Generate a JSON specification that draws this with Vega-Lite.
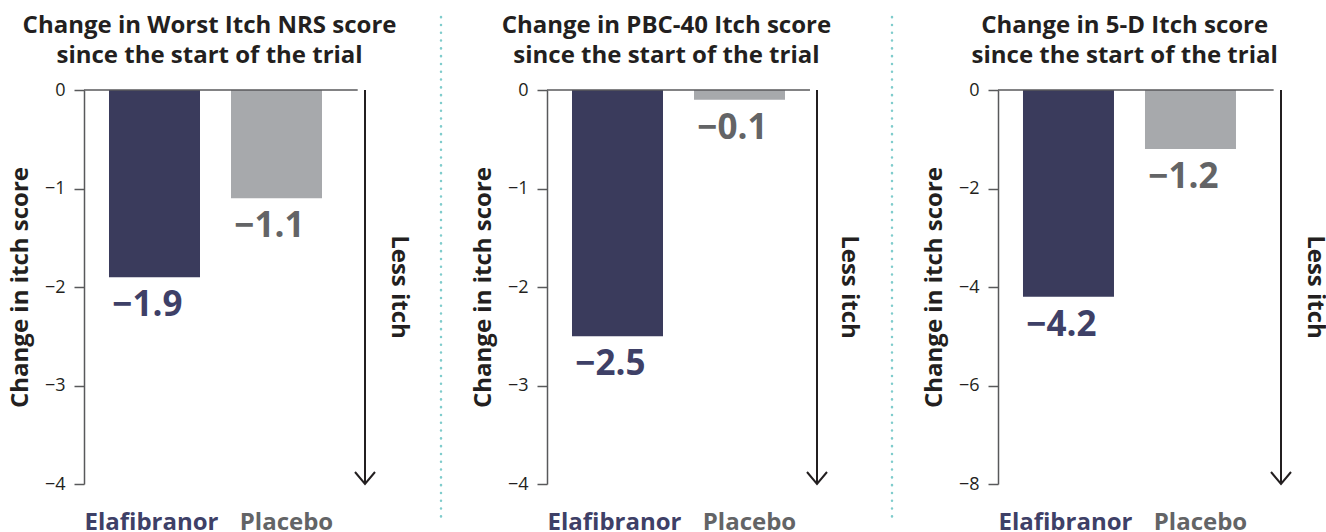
{
  "$schema": "https://vega.github.io/schema/vega-lite/v6.json",
  "padding": {"left": 8, "top": 14, "right": 5, "bottom": 0},
  "background": "white",
  "config": {
    "font": "Open Sans",
    "view": {"stroke": null},
    "title": {"fontSize": 24, "fontWeight": "bold", "font": "Open Sans", "lineHeight": 30, "color": "#231f20", "anchor": "middle", "frame": "bounds", "offset": 13},
    "axisY": {"grid": false, "labelExpr": "datum.value < 0 ? '\u2212' + abs(datum.value) : '' + datum.value", "domainColor": "#58595b", "domainWidth": 1.5, "tickColor": "#58595b", "tickWidth": 1.5, "tickSize": 10, "labelFont": "Open Sans", "labelFontSize": 18, "labelColor": "#231f20", "labelPadding": 9, "titleFont": "Open Sans", "titleFontSize": 24, "titleFontWeight": "bold", "titleColor": "#231f20", "titlePadding": 12},
    "axisX": {"title": null, "domain": false, "ticks": false, "tickSize": 0, "labelAngle": 0, "labelFont": "Open Sans", "labelFontSize": 24, "labelFontWeight": "bold", "labelPadding": 26}
  },
  "spacing": 28,
  "hconcat": [
    {
      "width": 281, "height": 394,
      "title": {"text": ["Change in Worst Itch NRS score", "since the start of the trial"]},
      "data": {"values": [
        {"group": "Elafibranor", "value": -1.9, "label": "−1.9"},
        {"group": "Placebo", "value": -1.1, "label": "−1.1"}
      ]},
      "resolve": {"scale": {"x": "independent"}},
      "layer": [
        {
          "encoding": {
            "x": {"field": "group", "type": "nominal", "sort": null, "scale": {"paddingInner": 0.2541, "paddingOuter": 0.2787, "align": 0.3676},
              "axis": {"labelColor": {"condition": {"test": "datum.value === 'Elafibranor'", "value": "#3e4067"}, "value": "#636466"}, "labelOffset": {"condition": {"test": "datum.value === 'Placebo'", "value": 10}, "value": -3}}},
            "y": {"field": "value", "type": "quantitative", "scale": {"domain": [-4, 0], "nice": false}, "axis": {"title": "Change in itch score", "values": [0, -1, -2, -3, -4]}}
          },
          "layer": [
            {"mark": {"type": "bar"}, "encoding": {"color": {"condition": {"test": "datum.group === 'Elafibranor'", "value": "#3a3b5c"}, "value": "#a7a9ac"}}},
            {"mark": {"type": "text", "baseline": "top", "dy": 11, "dx": -7, "fontSize": 35, "fontWeight": "bold", "font": "Open Sans"},
             "encoding": {"text": {"field": "label"}, "color": {"condition": {"test": "datum.group === 'Elafibranor'", "value": "#3e4067"}, "value": "#636466"}}}
          ]
        },
        {
          "data": {"values": [{"note": "Less itch"}]},
          "layer": [
            {"mark": {"type": "rule", "color": "#58595b", "strokeWidth": 1.5},
             "encoding": {"x": {"datum": 0, "type": "quantitative", "scale": {"domain": [0, 1]}, "axis": null}, "x2": {"datum": 0.974}, "y": {"datum": 0, "type": "quantitative"}}},
            {"mark": {"type": "rule", "color": "#231f20", "strokeWidth": 2},
             "encoding": {"x": {"datum": 1, "type": "quantitative", "scale": {"domain": [0, 1]}, "axis": null}, "y": {"datum": 0, "type": "quantitative"}, "y2": {"datum": -4}}},
            {"mark": {"type": "point", "shape": "M-1,-1.2L0,0L1,-1.2", "size": 400, "filled": false, "strokeWidth": 2, "color": "#231f20", "opacity": 1},
             "encoding": {"x": {"datum": 1, "type": "quantitative", "scale": {"domain": [0, 1]}, "axis": null}, "y": {"datum": -4, "type": "quantitative"}}},
            {"mark": {"type": "text", "angle": 90, "fontSize": 24, "fontWeight": "bold", "font": "Open Sans", "color": "#231f20", "align": "center", "baseline": "middle"},
             "encoding": {"text": {"field": "note"}, "x": {"datum": 1.12, "type": "quantitative", "scale": {"domain": [0, 1]}, "axis": null}, "y": {"datum": -2, "type": "quantitative"}}}
          ]
        }
      ]
    },
    {
      "width": 2, "height": 394,
      "data": {"values": [{"kind": "separator"}]},
      "mark": {"type": "rule", "color": "#7fcccc", "strokeWidth": 2.5, "strokeDash": [0.1, 7.7], "strokeCap": "round"},
      "encoding": {
        "x": {"datum": 0.5, "type": "quantitative", "scale": {"domain": [0, 1]}, "axis": null},
        "y": {"datum": 0.74, "type": "quantitative", "scale": {"domain": [-4, 0]}, "axis": null},
        "y2": {"datum": -4.335}
      }
    },
    {
      "width": 270, "height": 394,
      "title": {"text": ["Change in PBC-40 Itch score", "since the start of the trial"]},
      "data": {"values": [
        {"group": "Elafibranor", "value": -2.5, "label": "−2.5"},
        {"group": "Placebo", "value": -0.1, "label": "−0.1"}
      ]},
      "resolve": {"scale": {"x": "independent"}},
      "layer": [
        {
          "encoding": {
            "x": {"field": "group", "type": "nominal", "sort": null, "scale": {"paddingInner": 0.2541, "paddingOuter": 0.2336, "align": 0.4386},
              "axis": {"labelColor": {"condition": {"test": "datum.value === 'Elafibranor'", "value": "#3e4067"}, "value": "#636466"}, "labelOffset": {"condition": {"test": "datum.value === 'Placebo'", "value": 10}, "value": -3}}},
            "y": {"field": "value", "type": "quantitative", "scale": {"domain": [-4, 0], "nice": false}, "axis": {"title": "Change in itch score", "values": [0, -1, -2, -3, -4]}}
          },
          "layer": [
            {"mark": {"type": "bar"}, "encoding": {"color": {"condition": {"test": "datum.group === 'Elafibranor'", "value": "#3a3b5c"}, "value": "#a7a9ac"}}},
            {"mark": {"type": "text", "baseline": "top", "dy": 11, "dx": -7, "fontSize": 35, "fontWeight": "bold", "font": "Open Sans"},
             "encoding": {"text": {"field": "label"}, "color": {"condition": {"test": "datum.group === 'Elafibranor'", "value": "#3e4067"}, "value": "#636466"}}}
          ]
        },
        {
          "data": {"values": [{"note": "Less itch"}]},
          "layer": [
            {"mark": {"type": "rule", "color": "#58595b", "strokeWidth": 1.5},
             "encoding": {"x": {"datum": 0, "type": "quantitative", "scale": {"domain": [0, 1]}, "axis": null}, "x2": {"datum": 0.974}, "y": {"datum": 0, "type": "quantitative"}}},
            {"mark": {"type": "rule", "color": "#231f20", "strokeWidth": 2},
             "encoding": {"x": {"datum": 1, "type": "quantitative", "scale": {"domain": [0, 1]}, "axis": null}, "y": {"datum": 0, "type": "quantitative"}, "y2": {"datum": -4}}},
            {"mark": {"type": "point", "shape": "M-1,-1.2L0,0L1,-1.2", "size": 400, "filled": false, "strokeWidth": 2, "color": "#231f20", "opacity": 1},
             "encoding": {"x": {"datum": 1, "type": "quantitative", "scale": {"domain": [0, 1]}, "axis": null}, "y": {"datum": -4, "type": "quantitative"}}},
            {"mark": {"type": "text", "angle": 90, "fontSize": 24, "fontWeight": "bold", "font": "Open Sans", "color": "#231f20", "align": "center", "baseline": "middle"},
             "encoding": {"text": {"field": "note"}, "x": {"datum": 1.12, "type": "quantitative", "scale": {"domain": [0, 1]}, "axis": null}, "y": {"datum": -2, "type": "quantitative"}}}
          ]
        }
      ]
    },
    {
      "width": 2, "height": 394,
      "data": {"values": [{"kind": "separator"}]},
      "mark": {"type": "rule", "color": "#7fcccc", "strokeWidth": 2.5, "strokeDash": [0.1, 7.7], "strokeCap": "round"},
      "encoding": {
        "x": {"datum": 0.5, "type": "quantitative", "scale": {"domain": [0, 1]}, "axis": null},
        "y": {"datum": 0.74, "type": "quantitative", "scale": {"domain": [-4, 0]}, "axis": null},
        "y2": {"datum": -4.335}
      }
    },
    {
      "width": 283, "height": 394,
      "title": {"text": ["Change in 5-D Itch score", "since the start of the trial"]},
      "data": {"values": [
        {"group": "Elafibranor", "value": -4.2, "label": "−4.2"},
        {"group": "Placebo", "value": -1.2, "label": "−1.2"}
      ]},
      "resolve": {"scale": {"x": "independent"}},
      "layer": [
        {
          "encoding": {
            "x": {"field": "group", "type": "nominal", "sort": null, "scale": {"paddingInner": 0.2541, "paddingOuter": 0.2869, "align": 0.357},
              "axis": {"labelColor": {"condition": {"test": "datum.value === 'Elafibranor'", "value": "#3e4067"}, "value": "#636466"}, "labelOffset": {"condition": {"test": "datum.value === 'Placebo'", "value": 10}, "value": -3}}},
            "y": {"field": "value", "type": "quantitative", "scale": {"domain": [-8, 0], "nice": false}, "axis": {"title": "Change in itch score", "values": [0, -2, -4, -6, -8]}}
          },
          "layer": [
            {"mark": {"type": "bar"}, "encoding": {"color": {"condition": {"test": "datum.group === 'Elafibranor'", "value": "#3a3b5c"}, "value": "#a7a9ac"}}},
            {"mark": {"type": "text", "baseline": "top", "dy": 11, "dx": -7, "fontSize": 35, "fontWeight": "bold", "font": "Open Sans"},
             "encoding": {"text": {"field": "label"}, "color": {"condition": {"test": "datum.group === 'Elafibranor'", "value": "#3e4067"}, "value": "#636466"}}}
          ]
        },
        {
          "data": {"values": [{"note": "Less itch"}]},
          "layer": [
            {"mark": {"type": "rule", "color": "#58595b", "strokeWidth": 1.5},
             "encoding": {"x": {"datum": 0, "type": "quantitative", "scale": {"domain": [0, 1]}, "axis": null}, "x2": {"datum": 0.974}, "y": {"datum": 0, "type": "quantitative"}}},
            {"mark": {"type": "rule", "color": "#231f20", "strokeWidth": 2},
             "encoding": {"x": {"datum": 1, "type": "quantitative", "scale": {"domain": [0, 1]}, "axis": null}, "y": {"datum": 0, "type": "quantitative"}, "y2": {"datum": -8}}},
            {"mark": {"type": "point", "shape": "M-1,-1.2L0,0L1,-1.2", "size": 400, "filled": false, "strokeWidth": 2, "color": "#231f20", "opacity": 1},
             "encoding": {"x": {"datum": 1, "type": "quantitative", "scale": {"domain": [0, 1]}, "axis": null}, "y": {"datum": -8, "type": "quantitative"}}},
            {"mark": {"type": "text", "angle": 90, "fontSize": 24, "fontWeight": "bold", "font": "Open Sans", "color": "#231f20", "align": "center", "baseline": "middle"},
             "encoding": {"text": {"field": "note"}, "x": {"datum": 1.12, "type": "quantitative", "scale": {"domain": [0, 1]}, "axis": null}, "y": {"datum": -4, "type": "quantitative"}}}
          ]
        }
      ]
    }
  ]
}
